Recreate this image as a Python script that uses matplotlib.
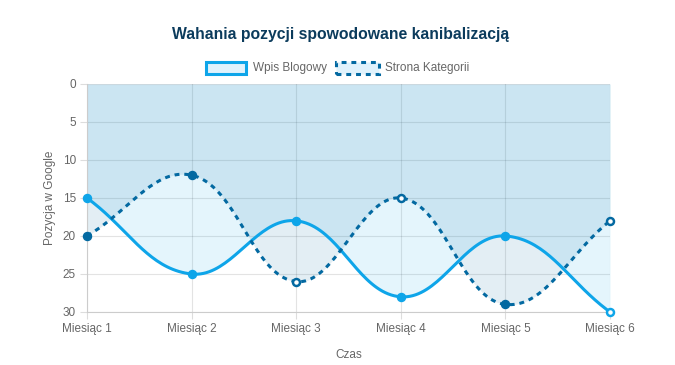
import numpy as np
import matplotlib
matplotlib.use("Agg")
import matplotlib.pyplot as plt
from matplotlib.patches import Rectangle

plt.rcParams['font.family'] = ['Liberation Sans', 'DejaVu Sans']

months = ["Miesiąc 1", "Miesiąc 2", "Miesiąc 3", "Miesiąc 4", "Miesiąc 5", "Miesiąc 6"]
blog = [15, 25, 18, 28, 20, 30]
category = [20, 12, 26, 15, 29, 18]
y_ticks = [0, 5, 10, 15, 20, 25, 30]
title = "Wahania pozycji spowodowane kanibalizacją"
label_blog = "Wpis Blogowy"
label_cat = "Strona Kategorii"
xlabel = "Czas"
ylabel = "Pozycja w Google"

C_BLOG = "#0ea5e9"
C_CAT = "#0369a1"
FILL_A = 0.11

W, H = 675, 365
fig = plt.figure(figsize=(W / 100, H / 100), dpi=100)
L, R, T, B = 87, 610, 84, 312
ax = fig.add_axes([L / W, 1 - B / H, (R - L) / W, (B - T) / H])
x = np.arange(len(months))
ax.set_xlim(0, len(months) - 1)
ax.set_ylim(30, 0)


def spline(xd, yd, tension=0.4, n=40):
    pts = ax.transData.transform(np.column_stack([xd, yd]).astype(float))
    m = len(pts)
    cps = []
    for i in range(m):
        p0 = pts[max(i - 1, 0)]
        p1 = pts[i]
        p2 = pts[min(i + 1, m - 1)]
        d01 = np.hypot(*(p1 - p0))
        d12 = np.hypot(*(p2 - p1))
        tot = d01 + d12
        s01 = d01 / tot if tot else 0
        s12 = d12 / tot if tot else 0
        fa = tension * s01
        fb = tension * s12
        cps.append((p1 - fa * (p2 - p0), p1 + fb * (p2 - p0)))
    bb = ax.get_window_extent()
    out = []
    for i in range(m - 1):
        P0 = pts[i]
        P1 = cps[i][1].copy()
        P2 = cps[i + 1][0].copy()
        P3 = pts[i + 1]
        for P in (P1, P2):
            P[1] = min(max(P[1], bb.y0), bb.y1)
        t = np.linspace(0, 1, n)[:, None]
        seg = ((1 - t) ** 3) * P0 + 3 * ((1 - t) ** 2) * t * P1 + 3 * (1 - t) * t ** 2 * P2 + t ** 3 * P3
        if i > 0:
            seg = seg[1:]
        out.append(seg)
    out = np.vstack(out)
    d = ax.transData.inverted().transform(out)
    return d[:, 0], d[:, 1]


# grid
ax.set_yticks(y_ticks)
ax.set_xticks(x)
ax.set_xticklabels(months)
ax.grid(True, color="#000000", alpha=0.11, linewidth=0.8, zorder=0)
ax.set_axisbelow(True)
for s in ["top", "right"]:
    ax.spines[s].set_visible(False)
for s in ["left", "bottom"]:
    ax.spines[s].set_color("#cccccc")
    ax.spines[s].set_linewidth(0.8)
ax.tick_params(axis="both", colors="#dddddd", length=5, width=0.8, labelcolor="#666666", labelsize=8.5)
ax.tick_params(axis="y", pad=3)
ax.tick_params(axis="x", pad=3)

bx, by = spline(x, blog)
cx, cy = spline(x, category)

ax.fill_between(bx, by, 0, color=C_BLOG, alpha=FILL_A, linewidth=0, zorder=1)
ax.fill_between(cx, cy, 0, color=C_CAT, alpha=FILL_A, linewidth=0, zorder=1)

ax.plot(bx, by, color=C_BLOG, linewidth=2.2, zorder=3, solid_capstyle="round", clip_on=False)
ax.plot(cx, cy, color=C_CAT, linewidth=2.2, zorder=3, linestyle=(0, (1.6, 1.6)), clip_on=False)

ax.plot(x, blog, linestyle="none", marker="o", markersize=5.8, color=C_BLOG, zorder=4, clip_on=False)
ax.plot(x, category, linestyle="none", marker="o", markersize=5.8, color=C_CAT, zorder=4, clip_on=False)
hollow_cat = [2, 3, 5]
hollow_blog = [5]
ax.plot([x[i] for i in hollow_cat], [category[i] for i in hollow_cat], linestyle="none", marker="o",
        markersize=2.2, color="white", zorder=5, clip_on=False)
ax.plot([x[i] for i in hollow_blog], [blog[i] for i in hollow_blog], linestyle="none", marker="o",
        markersize=2.2, color="white", zorder=5, clip_on=False)

ax.set_xlabel(xlabel, color="#666666", fontsize=8.5, labelpad=10)
ax.set_ylabel(ylabel, color="#666666", fontsize=8.5, labelpad=5)

fig.text(341 / W, 1 - 34 / H, title, ha="center", va="center", fontsize=11.3, fontweight="bold", color="#0b3b5c")

# legend
def box(x0, x1, y0, y1, color, dashed):
    r = Rectangle((x0 / W, 1 - y1 / H), (x1 - x0) / W, (y1 - y0) / H, transform=fig.transFigure,
                  facecolor=(0.88, 0.95, 0.99), edgecolor=color, linewidth=2.2,
                  linestyle=(0, (1.6, 1.6)) if dashed else "-")
    fig.add_artist(r)

box(206, 246, 62, 74, C_BLOG, False)
fig.text(253 / W, 1 - 68 / H, label_blog, ha="left", va="center", fontsize=8.5, color="#666666")
box(336, 379, 62, 74, C_CAT, True)
fig.text(385 / W, 1 - 68 / H, label_cat, ha="left", va="center", fontsize=8.5, color="#666666")

fig.savefig("out.png", dpi=100)
